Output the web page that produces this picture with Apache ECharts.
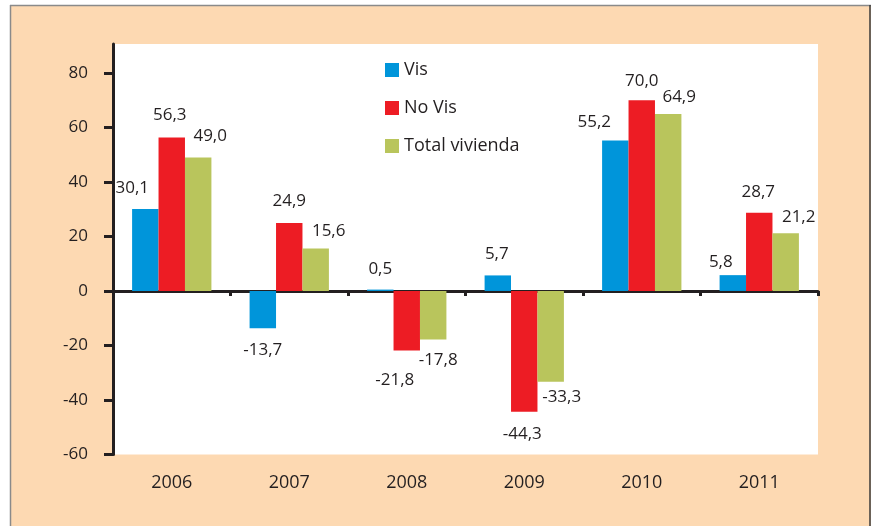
<!DOCTYPE html>
<html>
<head>
<meta charset="utf-8">
<script src="https://cdn.jsdelivr.net/npm/echarts@6/dist/echarts.min.js"></script>
<style>
	html, body { margin: 0; padding: 0; background: #fff; }
	#chart { width: 871px; height: 526px; }
</style>
</head>
<body>
<div id="chart"></div>
<script>
// datos
var years = ['2006', '2007', '2008', '2009', '2010', '2011'];
var vis = [30.1, -13.7, 0.5, 5.7, 55.2, 5.8];
var noVis = [56.3, 24.9, -21.8, -44.3, 70.0, 28.7];
var totalVivienda = [49.0, 15.6, -17.8, -33.3, 64.9, 21.2];
var yTicks = [-60, -40, -20, 0, 20, 40, 60, 80];

// ajustes de las etiquetas (dx, y del centro respecto al extremo de la barra)
var visDx = [-13, 0, 0, -1, -21, -12];
var visDy = [-20, 21, -20, -21, -18, -12];
var noVisDx = [-2, 0, -12, -2, 0, -1];
var noVisDy = [-22, -21, 29, 22, -18, -20];
var totalDx = [12, 13, 5, 11, 11, 13];
var totalDy = [-21, -17, 20, 15, -16, -16];

var ink = '#231F20';
var font = '"Open Sans", "Noto Sans", sans-serif';

function fmt(v) {
	return v.toFixed(1).replace('.', ',');
}

function buildData(values, dx, dy) {
	return values.map(function(v, i) {
		var pos = v >= 0 ? 'top' : 'bottom';
		var oy = v >= 0 ? dy[i] + 8 : dy[i] - 8;
		return {
			value: v,
			label: {
				position: pos,
				offset: [dx[i], oy]
			}
		};
	});
}

function makeSeries(name, color, values, dx, dy) {
	return {
		name: name,
		type: 'bar',
		xAxisIndex: 0,
		barWidth: '22.5%',
		barGap: '0%',
		itemStyle: { color: color },
		label: {
			show: true,
			distance: 0,
			color: ink,
			fontSize: 17,
			fontFamily: font,
			formatter: function(p) { return fmt(p.value); }
		},
		data: buildData(values, dx, dy)
	};
}

var myChart = echarts.init(document.getElementById('chart'));
var option = {
	backgroundColor: '#FDD9B2',
	animation: false,
	graphic: [
		{ type: 'rect', shape: { x: 0, y: 0, width: 871, height: 5 }, style: { fill: '#fff' }, silent: true },
		{ type: 'rect', shape: { x: 0, y: 0, width: 10, height: 526 }, style: { fill: '#fff' }, silent: true },
		{ type: 'line', shape: { x1: 10, y1: 5.5, x2: 871, y2: 5.5 }, style: { stroke: '#8a8a8a', lineWidth: 1.5 }, silent: true },
		{ type: 'line', shape: { x1: 10.5, y1: 5, x2: 10.5, y2: 526 }, style: { stroke: '#8a8a8a', lineWidth: 1.5 }, silent: true },
		{ type: 'line', shape: { x1: 870, y1: 5, x2: 870, y2: 526 }, style: { stroke: '#3a3a3a', lineWidth: 1.5 }, silent: true }
	],
	grid: {
		left: 113,
		right: 53,
		top: 44,
		bottom: 71.5,
		show: true,
		backgroundColor: '#fff',
		borderWidth: 0
	},
	legend: {
		orient: 'vertical',
		left: 380,
		top: 56,
		itemGap: 20,
		itemWidth: 14,
		itemHeight: 14,
		icon: 'rect',
		textStyle: { color: ink, fontSize: 18, fontFamily: font },
		data: ['Vis', 'No Vis', 'Total vivienda']
	},
	xAxis: [{
		type: 'category',
		data: years,
		position: 'bottom',
		axisLine: { onZero: true, lineStyle: { color: ink, width: 3 } },
		axisTick: { show: true, length: 5, lineStyle: { color: ink, width: 3 } },
		axisLabel: { show: false },
		splitLine: { show: false }
	}, {
		type: 'category',
		data: years,
		position: 'bottom',
		axisLine: { show: false, onZero: false },
		axisTick: { show: false },
		axisLabel: { margin: 19, color: ink, fontSize: 18, fontFamily: font },
		splitLine: { show: false }
	}],
	yAxis: {
		type: 'value',
		min: -60,
		max: 90.6,
		axisLine: { show: true, lineStyle: { color: ink, width: 3 } },
		axisTick: { show: true, length: 9, customValues: yTicks, lineStyle: { color: ink, width: 3 } },
		axisLabel: { margin: 25, color: ink, fontSize: 17, fontFamily: font, customValues: yTicks },
		splitLine: { show: false }
	},
	series: [
		makeSeries('Vis', '#0095DA', vis, visDx, visDy),
		makeSeries('No Vis', '#ED1C24', noVis, noVisDx, noVisDy),
		makeSeries('Total vivienda', '#B9C55C', totalVivienda, totalDx, totalDy)
	]
};
myChart.setOption(option);
</script>
</body>
</html>
